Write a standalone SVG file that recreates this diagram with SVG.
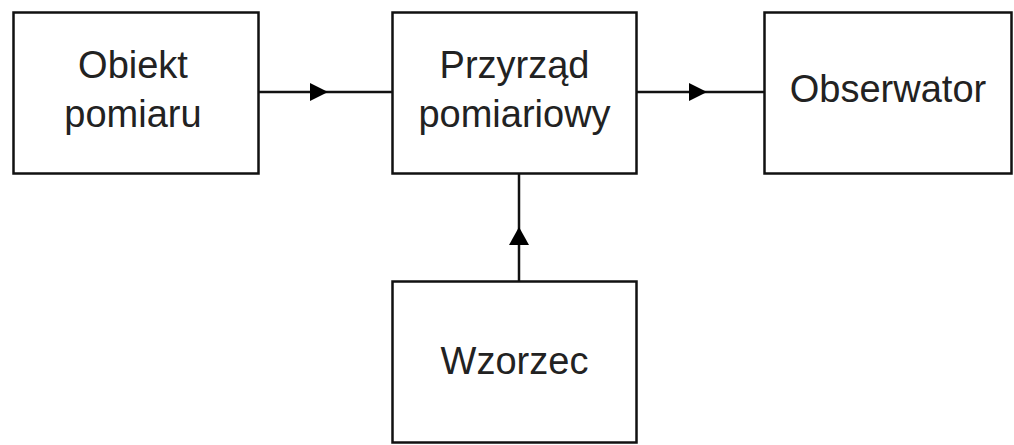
<svg xmlns="http://www.w3.org/2000/svg" width="1014" height="445" viewBox="0 0 1014 445">
<style>
.box{fill:#fff;stroke:#111;stroke-width:2.5}
.lbl{font-family:"Liberation Sans",Arial,sans-serif;font-size:38px;fill:#222;text-anchor:middle}
.con{stroke:#111;stroke-width:2.5;fill:none}
.head{fill:#000}
</style>
<rect width="1014" height="445" fill="#fff"/>
<g id="obiekt">
<rect class="box" x="13.5" y="12.5" width="245" height="161"/>
<text class="lbl" x="133" y="78">Obiekt</text>
<text class="lbl" x="133" y="127">pomiaru</text>
</g>
<g id="przyrzad">
<rect class="box" x="392.5" y="12.5" width="244" height="161"/>
<text class="lbl" x="514.5" y="78">Przyrząd</text>
<text class="lbl" x="514.5" y="127">pomiariowy</text>
</g>
<g id="obserwator">
<rect class="box" x="764.5" y="12.5" width="247" height="161"/>
<text class="lbl" x="888" y="102">Obserwator</text>
</g>
<g id="wzorzec">
<rect class="box" x="392.5" y="281.5" width="244" height="161"/>
<text class="lbl" x="514.5" y="374">Wzorzec</text>
</g>
<g id="connectors">
<line class="con" x1="258" y1="92" x2="392" y2="92"/>
<polygon class="head" points="310,83 328,92 310,101"/>
<line class="con" x1="637" y1="92" x2="764" y2="92"/>
<polygon class="head" points="689,83 707,92 689,101"/>
<line class="con" x1="519" y1="174" x2="519" y2="281"/>
<polygon class="head" points="509,245 519,227 529,245"/>
</g>
</svg>
